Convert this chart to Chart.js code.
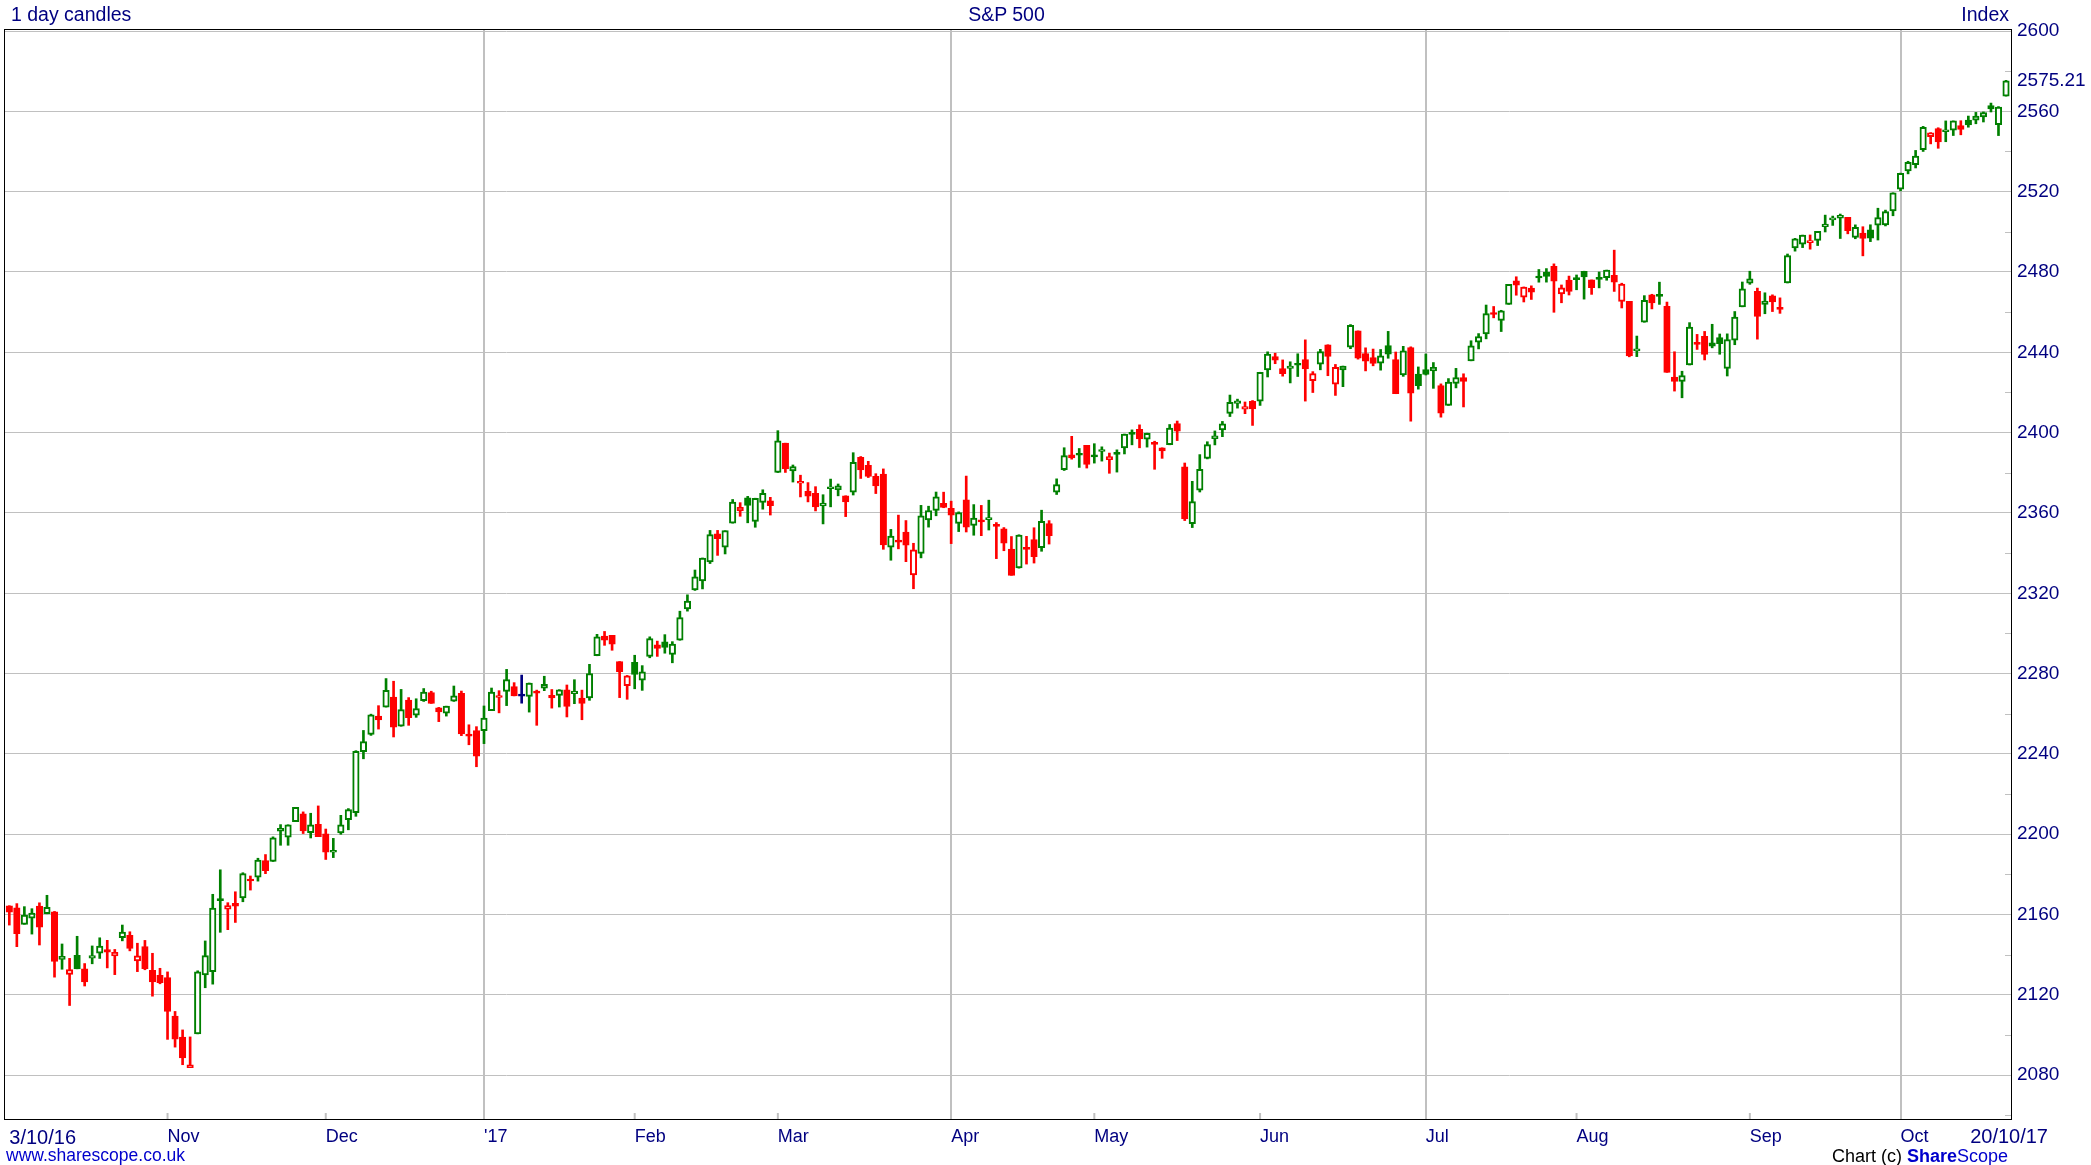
<!DOCTYPE html>
<html><head><meta charset="utf-8">
<script src="https://cdn.jsdelivr.net/npm/chart.js@4.4.1/dist/chart.umd.min.js"></script>
<style>
html,body{margin:0;padding:0;background:#fff;overflow:hidden;}
#wrap{position:relative;width:2091px;height:1165px;}
canvas{position:absolute;left:0;top:0;}
.t{position:absolute;white-space:nowrap;font-family:"Liberation Sans",Arial,sans-serif;line-height:1;}
</style></head><body>
<div id="wrap">
<canvas id="c" width="2091" height="1165"></canvas>
<div class="t" style="left:11px;top:4.5px;font-size:19.5px;color:#000080">1 day candles</div>
<div class="t" style="left:1006.5px;transform:translateX(-50%);top:4.5px;font-size:19.5px;color:#000080">S&amp;P 500</div>
<div class="t" style="right:82px;top:4.5px;font-size:19.5px;color:#000080">Index</div>
<div class="t" style="right:43px;top:1125.5px;font-size:20px;color:#000080">20/10/17</div>
<div class="t" style="left:6px;top:1147px;font-size:17.5px;color:#0000cc">www.sharescope.co.uk</div>
<div class="t" style="right:83px;top:1147px;font-size:18px;color:#000">Chart (c) <b style="color:#0000cc">Share</b><span style="color:#0000cc">Scope</span></div>
</div>
<script>
// ---- DATA: S&P 500 daily candles, 3 Oct 2016 .. 20 Oct 2017 (trading-day index) ----
const prevClose = 2168.27; // close before the first candle
const opens = [
// Oct 2016
2164.33,2163.37,2155.15,2158.22,2164.19,2160.39,2161.35,2137.67,2130.26,2139.68,2132.95,2138.31,2140.81,2142.51,2139.43,2148.50,2149.72,2136.97,2144.06,2132.23,2129.78,
// Nov
2128.68,2109.43,2099.00,2083.79,2100.59,2129.92,2131.56,2167.49,2162.71,2165.64,2168.29,2177.53,2178.61,2186.85,2186.43,2201.56,2198.55,2206.27,2210.21,2200.76,2204.97,
// Dec
2200.17,2191.12,2200.65,2207.26,2210.72,2241.13,2249.73,2258.83,2263.32,2268.35,2253.77,2266.81,2259.24,2266.50,2270.54,2262.93,2260.25,2266.23,2270.23,2249.50,2251.61,
// Jan 2017
2251.57,2261.60,2268.18,2271.14,2273.59,2269.72,2268.60,2271.14,2272.74,2269.14,2269.14,2271.90,2269.96,2267.78,2267.88,2288.88,2298.63,2299.02,2286.01,2274.02,
// Feb
2285.59,2276.69,2288.54,2294.28,2295.87,2289.55,2296.70,2312.27,2321.72,2326.12,2335.58,2349.64,2343.01,2354.91,2361.11,2367.50,2355.73,2365.23,2366.08,
// Mar
2380.13,2394.75,2380.92,2375.23,2370.74,2369.81,2363.49,2372.52,2371.56,2368.55,2370.34,2387.71,2383.71,2378.24,2379.32,2343.00,2345.97,2350.42,2329.11,2339.79,2356.54,2361.31,2364.82,
// Apr
2362.34,2354.76,2366.59,2353.79,2356.59,2357.16,2353.92,2352.15,2341.98,2332.62,2342.53,2346.79,2342.69,2354.74,2370.33,2381.51,2388.98,2389.70,2393.68,
// May
2388.50,2391.05,2386.50,2389.79,2392.37,2399.94,2401.58,2396.79,2394.84,2392.44,2393.98,2404.55,2382.95,2354.69,2371.37,2387.21,2397.04,2401.41,2409.54,2414.50,2411.67,2415.63,
// Jun
2415.65,2431.28,2437.83,2431.92,2432.03,2434.27,2436.39,2425.88,2434.15,2443.75,2424.14,2431.24,2442.55,2450.66,2439.31,2437.40,2434.65,2443.32,2436.34,2428.70,2442.38,2429.20,
// Jul
2431.39,2430.78,2423.44,2413.52,2424.51,2427.35,2435.75,2444.99,2449.16,2459.50,2455.88,2463.85,2475.56,2467.40,2472.04,2477.88,2479.97,2482.76,2469.12,2475.94,
// Aug
2477.10,2480.38,2476.03,2476.88,2477.14,2478.35,2465.35,2465.38,2441.04,2454.96,2468.66,2468.63,2462.95,2427.64,2425.50,2433.75,2444.88,2447.91,2444.72,2447.35,2431.94,2446.06,2462.65,
// Sep
2474.42,2470.35,2463.83,2468.06,2462.25,2474.52,2491.94,2493.89,2494.56,2495.67,2502.51,2506.29,2506.84,2507.16,2497.26,2499.39,2501.04,2503.30,2503.41,2510.42,
// Oct
2521.20,2530.34,2533.48,2540.86,2547.44,2551.39,2549.99,2550.62,2552.88,2555.66,2555.57,2557.17,2562.87,2553.39,2567.56
];
const highs = [
2164.41,2165.46,2163.95,2162.93,2165.86,2169.60,2161.56,2145.36,2138.19,2149.19,2135.61,2144.38,2148.44,2147.18,2142.63,2154.79,2151.44,2145.73,2147.13,2140.72,2133.25,
2131.45,2111.76,2102.56,2099.07,2132.00,2146.87,2170.10,2182.30,2165.92,2171.36,2180.84,2179.22,2188.06,2189.89,2198.70,2204.80,2204.72,2213.35,2211.14,2210.46,2214.10,
2202.60,2197.95,2209.42,2212.78,2241.63,2251.69,2259.80,2264.03,2277.53,2276.20,2272.12,2268.05,2267.47,2272.56,2271.23,2263.18,2263.79,2273.82,2271.31,2254.51,2253.58,
2263.88,2272.82,2271.50,2282.10,2275.49,2279.27,2275.32,2271.78,2278.68,2272.08,2272.01,2274.33,2276.96,2271.78,2284.63,2299.55,2300.99,2299.02,2286.01,2279.09,
2289.14,2283.97,2298.31,2296.18,2299.40,2295.91,2311.08,2319.23,2331.58,2337.58,2351.30,2351.31,2351.16,2366.71,2365.13,2368.26,2367.34,2371.54,2367.79,
2400.98,2394.75,2383.89,2378.80,2375.12,2373.09,2369.08,2376.86,2374.42,2368.55,2390.01,2388.10,2385.71,2379.55,2381.93,2351.81,2358.92,2356.22,2344.90,2363.78,2363.36,2370.42,2370.35,
2365.87,2360.53,2378.36,2364.16,2363.76,2366.37,2355.22,2352.72,2348.26,2349.14,2348.35,2352.63,2361.37,2356.18,2376.98,2392.48,2398.16,2392.10,2393.68,
2394.49,2392.93,2389.82,2391.43,2399.29,2401.36,2403.87,2399.74,2395.72,2392.44,2404.05,2405.77,2384.87,2375.74,2389.06,2395.46,2400.85,2405.58,2418.71,2416.68,2415.26,2415.99,
2430.06,2440.23,2439.55,2436.21,2435.28,2439.27,2446.20,2430.38,2441.49,2443.75,2433.95,2433.15,2453.82,2450.66,2442.23,2441.62,2441.40,2450.42,2440.15,2442.97,2442.73,2432.71,
2439.17,2434.90,2424.28,2426.92,2432.00,2429.30,2445.76,2449.32,2463.54,2462.82,2460.92,2473.83,2477.62,2472.54,2473.10,2481.24,2481.69,2484.04,2473.53,2477.96,
2478.51,2480.38,2476.03,2480.00,2480.95,2490.87,2474.41,2465.38,2448.09,2468.22,2468.90,2474.93,2465.02,2440.27,2430.58,2454.77,2448.91,2450.39,2453.96,2449.12,2449.19,2460.31,2475.01,
2480.38,2471.97,2469.64,2468.62,2467.11,2488.95,2496.77,2498.37,2498.43,2500.23,2508.32,2507.84,2508.85,2507.16,2503.47,2502.54,2503.51,2511.75,2510.81,2519.44,
2529.23,2535.13,2540.53,2552.51,2549.41,2551.82,2555.23,2555.24,2555.33,2557.65,2559.47,2559.71,2564.11,2562.36,2575.44
];
const lows = [
2154.77,2144.01,2155.15,2150.28,2144.85,2160.39,2128.84,2132.77,2114.72,2132.98,2124.43,2135.49,2138.15,2133.44,2130.09,2146.91,2141.93,2131.59,2132.52,2119.36,2125.53,
2097.85,2094.00,2085.23,2083.79,2100.59,2123.56,2125.35,2151.17,2152.49,2156.08,2166.38,2172.20,2176.65,2180.38,2186.43,2194.51,2194.51,2206.27,2200.36,2198.15,2198.81,
2187.44,2188.37,2199.97,2202.21,2208.93,2237.57,2249.23,2252.37,2263.32,2248.44,2253.77,2254.24,2258.21,2266.14,2265.15,2256.08,2258.84,2266.15,2249.11,2244.56,2233.62,
2245.13,2261.60,2260.45,2264.06,2268.90,2265.27,2260.83,2254.25,2271.51,2262.81,2263.35,2258.41,2265.01,2257.02,2266.68,2288.88,2294.08,2291.62,2268.04,2267.21,
2272.44,2271.65,2287.88,2288.57,2290.16,2285.38,2296.61,2311.10,2321.42,2322.17,2334.81,2338.87,2339.58,2354.91,2358.34,2355.09,2352.87,2361.87,2358.96,
2380.13,2380.17,2375.39,2367.98,2365.51,2361.01,2354.54,2363.04,2368.52,2358.18,2368.94,2377.18,2377.64,2369.66,2341.90,2336.45,2342.13,2335.74,2322.25,2337.63,2352.94,2358.58,2362.60,
2344.73,2350.72,2350.52,2348.90,2348.68,2351.50,2337.25,2341.18,2328.95,2332.51,2334.54,2335.05,2340.91,2344.51,2369.19,2381.15,2386.78,2382.68,2382.36,
2384.83,2385.82,2379.75,2380.35,2389.38,2393.92,2392.44,2392.79,2381.74,2387.19,2393.94,2396.05,2356.21,2352.72,2370.43,2386.92,2393.88,2397.99,2408.01,2412.20,2409.43,2403.59,
2413.54,2427.71,2434.32,2428.12,2424.75,2427.94,2415.70,2419.97,2431.28,2428.34,2418.53,2422.88,2441.79,2436.60,2430.74,2433.27,2431.11,2437.03,2419.38,2428.02,2405.70,2421.65,
2428.69,2422.05,2407.70,2413.52,2422.27,2412.79,2435.75,2441.69,2446.69,2457.16,2450.34,2463.85,2468.43,2465.06,2466.32,2474.91,2474.94,2459.93,2464.66,2468.53,
2471.14,2466.48,2468.85,2472.08,2475.88,2470.32,2462.08,2437.75,2437.85,2454.96,2461.61,2463.86,2430.01,2420.69,2417.35,2433.67,2441.42,2436.19,2442.22,2439.03,2428.20,2443.77,2462.65,
2473.85,2446.55,2459.20,2460.29,2459.40,2474.52,2490.37,2492.14,2491.35,2493.16,2499.92,2503.19,2496.67,2499.00,2496.54,2488.03,2495.12,2495.91,2502.93,2507.99,
2520.40,2528.85,2531.80,2540.02,2543.79,2541.60,2544.86,2547.95,2548.31,2552.09,2553.80,2554.69,2559.67,2547.92,2567.56
];
const closes = [
2161.20,2150.49,2159.73,2160.77,2153.74,2163.66,2136.73,2139.18,2132.55,2132.98,2126.50,2139.60,2144.29,2141.34,2141.16,2151.33,2143.16,2139.43,2133.04,2126.41,2126.15,
2111.72,2097.94,2088.66,2085.18,2131.52,2139.56,2163.26,2167.48,2164.45,2164.20,2180.39,2176.94,2187.12,2181.90,2198.18,2202.94,2204.72,2213.35,2201.72,2204.66,2198.81,
2191.08,2191.95,2204.71,2212.23,2241.35,2246.19,2259.53,2256.96,2271.72,2253.28,2262.03,2258.07,2262.53,2270.76,2265.18,2260.96,2263.79,2268.88,2249.92,2249.26,2238.83,
2257.83,2270.75,2269.00,2276.98,2268.90,2268.90,2275.32,2270.44,2274.64,2267.89,2271.89,2263.69,2271.31,2265.20,2280.07,2298.37,2296.68,2294.69,2280.90,2278.87,
2279.55,2280.85,2297.42,2292.56,2293.08,2294.67,2307.87,2316.10,2328.25,2337.58,2349.25,2347.22,2351.16,2365.38,2362.82,2363.81,2367.34,2369.75,2363.64,
2395.96,2381.92,2383.12,2375.31,2368.39,2362.98,2364.87,2372.60,2373.47,2365.45,2385.26,2381.38,2378.25,2373.47,2344.02,2348.45,2345.96,2343.98,2341.59,2358.57,2361.13,2368.06,2362.72,
2358.84,2360.16,2352.95,2357.49,2355.54,2357.16,2353.78,2344.93,2328.95,2349.01,2342.19,2338.17,2355.84,2348.69,2374.15,2388.61,2387.45,2388.77,2384.20,
2388.33,2391.17,2388.13,2389.52,2399.29,2399.38,2396.92,2399.63,2394.44,2390.90,2402.32,2400.67,2357.03,2365.72,2381.73,2394.02,2398.42,2404.39,2415.07,2415.82,2412.91,2411.80,
2430.06,2439.07,2436.10,2429.33,2433.14,2433.79,2431.77,2429.39,2440.35,2437.92,2432.46,2433.15,2453.46,2437.03,2435.61,2434.50,2438.30,2439.07,2419.38,2440.69,2419.70,2423.41,
2429.01,2432.54,2409.75,2425.18,2427.43,2425.53,2443.25,2447.83,2459.27,2459.14,2460.61,2473.83,2473.45,2472.54,2469.91,2477.13,2477.83,2475.42,2472.10,2470.30,
2476.35,2477.57,2472.16,2476.83,2480.91,2474.92,2474.02,2438.21,2441.32,2465.84,2464.61,2468.11,2430.01,2425.55,2428.37,2452.51,2444.04,2438.97,2443.05,2444.24,2446.30,2457.59,2471.65,
2476.55,2457.85,2465.54,2465.10,2461.43,2488.11,2496.48,2498.37,2495.62,2500.23,2503.87,2506.65,2508.24,2500.60,2502.22,2496.66,2496.84,2507.04,2510.06,2519.36,
2529.12,2534.58,2537.74,2552.07,2549.33,2544.73,2550.64,2555.24,2550.93,2553.17,2557.64,2559.36,2561.26,2562.10,2575.21
];
// x-axis ticks: first trading day of each month (trading-day index) and their labels
const monthTickIdx    = [0, 21, 42, 63, 83, 102, 125, 144, 166, 188, 208, 231, 251];
const monthTickLabels = ['3/10/16','Nov','Dec',"'17",'Feb','Mar','Apr','May','Jun','Jul','Aug','Sep','Oct'];
const quarterIdx      = [63, 125, 188, 251];   // full-height grid lines
// y-axis ticks
const yMajorTicks = [2080,2120,2160,2200,2240,2280,2320,2360,2400,2440,2480,2520,2560,2600];
const yMinorTicks = [2060,2100,2140,2180,2220,2260,2300,2340,2380,2420,2460,2500,2540,2580];
const lastClose = closes[closes.length - 1];

// ---- derived styling ----
const GREEN = '#008000', RED = '#ff0000', BLUE = '#000080';
const colors = closes.map((c, i) => {
  const p = i === 0 ? prevClose : closes[i - 1];
  return c > p ? GREEN : (c < p ? RED : BLUE);
});
const fills = closes.map((c, i) => c < opens[i] ? colors[i] : '#ffffff');
const wickData = closes.map((c, i) => ({ x: i, y: [lows[i], highs[i]] }));
const bodyData = closes.map((c, i) => {
  let lo = Math.min(opens[i], c), hi = Math.max(opens[i], c);
  if (hi - lo < 1) { const m = (hi + lo) / 2; lo = m - 0.5; hi = m + 0.5; }
  return { x: i, y: [lo, hi] };
});

const FONT = '"Liberation Sans", Arial, sans-serif';
Chart.defaults.font.family = FONT;

const decor = {
  id: 'decor',
  beforeDatasetsDraw(chart) {
    const { ctx, chartArea: a, scales: { x, y } } = chart;
    ctx.save();
    ctx.strokeStyle = '#c0c0c0';
    ctx.lineWidth = 1;
    yMinorTicks.forEach(v => {
      const py = Math.round(y.getPixelForValue(v)) + 0.5;
      ctx.beginPath(); ctx.moveTo(a.right - 6, py); ctx.lineTo(a.right, py); ctx.stroke();
    });
    ctx.lineWidth = 2;
    monthTickIdx.forEach((v, k) => {
      if (k === 0 || quarterIdx.includes(v)) return;
      const px = x.getPixelForValue(v);
      ctx.beginPath(); ctx.moveTo(px, a.bottom - 6); ctx.lineTo(px, a.bottom); ctx.stroke();
    });
    ctx.restore();
  },
  afterDraw(chart) {
    const { ctx, chartArea: a } = chart;
    ctx.save();
    ctx.strokeStyle = '#000';
    ctx.lineWidth = 1;
    ctx.strokeRect(a.left - 0.5, a.top - 0.5, a.right - a.left + 1, a.bottom - a.top + 1);
    ctx.restore();
  }
};

new Chart(document.getElementById('c'), {
  type: 'bar',
  data: {
    datasets: [
      { label: 'body', data: bodyData, backgroundColor: fills, borderColor: colors,
        borderWidth: 2, borderSkipped: false, barThickness: 6.5, grouped: false, order: 0 },
      { label: 'wick', data: wickData, backgroundColor: colors, borderWidth: 0,
        barThickness: 2, grouped: false, order: 1 }
    ]
  },
  options: {
    responsive: false,
    animation: false,
    events: [],
    layout: { padding: { left: 5, top: 30, right: 0, bottom: 0 } },
    plugins: { legend: { display: false }, tooltip: { enabled: false } },
    scales: {
      x: {
        type: 'linear', min: -0.571, max: 265.66, offset: false,
        afterBuildTicks: s => { s.ticks = monthTickIdx.map(v => ({ value: v })); },
        afterFit: s => { s.height = 46; },
        ticks: {
          autoSkip: false, maxRotation: 0, minRotation: 0, align: 'start', padding: 7,
          color: '#000080',
          font: ctx => ({ family: FONT, size: ctx.index === 0 ? 20 : 18 }),
          callback: (v, i) => monthTickLabels[i]
        },
        grid: {
          offset: false, drawTicks: false, lineWidth: 2,
          color: ctx => (ctx.tick && quarterIdx.includes(ctx.tick.value)) ? '#c0c0c0' : 'rgba(0,0,0,0)'
        },
        border: { display: false }
      },
      y: {
        position: 'right', min: 2058.2, max: 2600.5, beginAtZero: false,
        afterBuildTicks: s => {
          s.ticks = yMajorTicks.concat(yMinorTicks).sort((a, b) => a - b)
            .map(v => ({ value: v })).concat([{ value: lastClose }]);
        },
        afterFit: s => { s.width = 80; },
        ticks: {
          autoSkip: false, padding: 6, crossAlign: 'near', color: '#000080',
          font: { family: FONT, size: 19 },
          callback: v => v === lastClose ? lastClose.toFixed(2) : (yMajorTicks.includes(v) ? String(v) : '')
        },
        grid: {
          drawTicks: false, lineWidth: 1,
          color: ctx => (ctx.tick && yMajorTicks.includes(ctx.tick.value)) ? '#c0c0c0' : 'rgba(0,0,0,0)'
        },
        border: { display: false }
      }
    }
  },
  plugins: [decor]
});
</script>
</body></html>
